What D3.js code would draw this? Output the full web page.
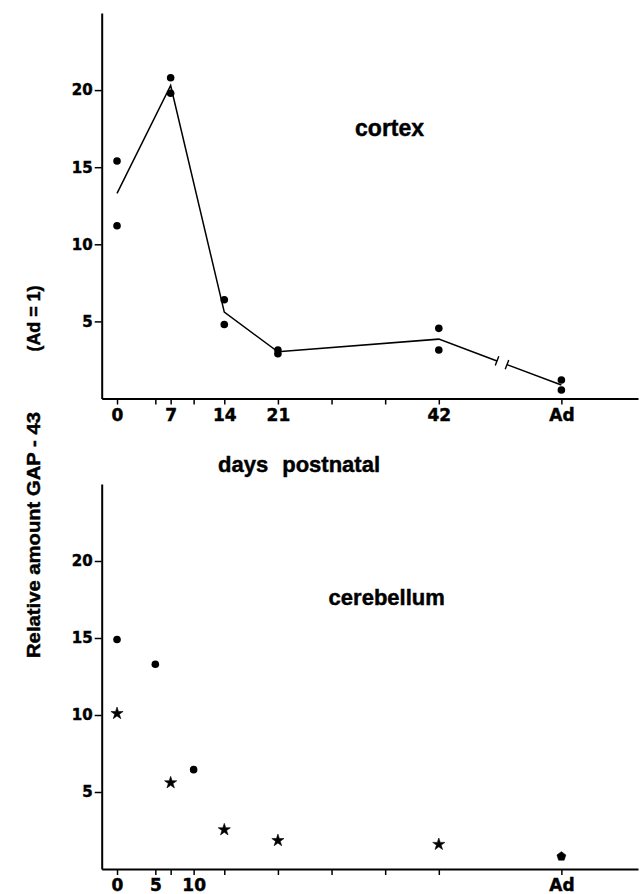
<!DOCTYPE html>
<html>
<head>
<meta charset="utf-8">
<script src="https://cdn.jsdelivr.net/npm/d3@7"></script>
<style>
  body { margin: 0; background: #fff; }
  svg { display: block; }
</style>
</head>
<body>
<div id="chart"></div>
<script>
// Données (jours postnatals, 'Ad' = adulte)
const tickDays     = [0, 5, 7, 10, 14, 21, 28, 35, 42, 'Ad']
const cortexLabels = ['0', '7', '14', '21', '42', 'Ad']
const cerebLabels  = ['0', '5', '10', 'Ad']
const yTicks       = [5, 10, 15, 20]

// cortex : deux mesures par âge, la ligne passe par la moyenne
const cortexDays = [0, 7, 14, 21, 42, 'Ad']
const cortexRep1 = [15.4, 20.8, 6.4, 3.15, 4.55, 1.2]
const cortexRep2 = [11.2, 19.8, 4.8, 2.9, 3.15, 0.55]
const breakDays  = [49.6, 50.9]   // coupure de l'axe entre 42 et Ad

// cervelet : ronds et étoiles (le dernier point est un pentagone)
const cerebDotDays   = [0, 5, 10]
const cerebDotVals   = [14.9, 13.3, 6.45]
const cerebStarDays  = [0, 7, 14, 21, 42, 'Ad']
const cerebStarVals  = [10.1, 5.6, 2.55, 1.85, 1.6, 0.82]
const cerebStarShape = ['star', 'star', 'star', 'star', 'star', 'pentagon']

const AD_POS = 58   // position de 'Ad' sur l'axe coupé

const W = 642, H = 894
const TEXT_FONT = "'Liberation Sans', Arial, Helvetica, sans-serif"
const NUM_FONT  = "'DejaVu Sans', sans-serif"

const toX = d => d === 'Ad' ? AD_POS : d

// pentagone pour le point adulte du cervelet
const symbolPentagon = {
  draw(context, size) {
    const r = Math.sqrt(size / 2.378)
    for (let i = 0; i < 5; i++) {
      const a = -Math.PI / 2 + i * 2 * Math.PI / 5
      const px = r * Math.cos(a), py = r * Math.sin(a)
      if (i === 0) context.moveTo(px, py)
      else context.lineTo(px, py)
    }
    context.closePath()
  }
}

// texte un peu plus gras, comme l'impression scannée
const boldText = sel => sel
  .attr('font-weight', 'bold')
  .attr('fill', '#000')
  .attr('stroke', '#000')
  .attr('stroke-width', 0.45)

const svg = d3.select('#chart')
  .append('svg')
  .attr('width', W)
  .attr('height', H)

const x = d3.scaleLinear().domain([-2, 68]).range([101.7, 638])

function drawAxes(y, labels) {
  const x0 = y.range()[0]

  // Axe Y
  svg.append('g')
    .attr('transform', `translate(${x(-2)},0)`)
    .call(d3.axisLeft(y).tickValues(yTicks).tickSize(7).tickSizeOuter(0).tickPadding(2))
    .call(g => g.select('.domain').attr('stroke', '#000').attr('stroke-width', 2))
    .call(g => g.selectAll('.tick line').attr('stroke', '#000').attr('stroke-width', 1.5))
    .call(g => g.selectAll('.tick text')
      .call(boldText)
      .attr('font-family', NUM_FONT)
      .attr('font-size', 15))

  // Axe X
  svg.append('g')
    .attr('transform', `translate(0,${x0})`)
    .call(d3.axisBottom(x)
      .tickValues(tickDays.map(toX))
      .tickSize(6).tickSizeOuter(0).tickPadding(4)
      .tickFormat((d, i) => {
        const lab = String(tickDays[i])
        return labels.includes(lab) ? lab : ''
      }))
    .call(g => g.select('.domain').attr('stroke', '#000').attr('stroke-width', 2))
    .call(g => g.selectAll('.tick line').attr('stroke', '#000').attr('stroke-width', 1.5))
    .call(g => g.selectAll('.tick text')
      .call(boldText)
      .attr('font-family', NUM_FONT)
      .attr('font-size', 17))
}

// ---- Panneau haut : cortex ----
const yTop = d3.scaleLinear().domain([0, 25]).range([398.5, 13])
drawAxes(yTop, cortexLabels)

const means = cortexDays.map((d, i) => ({ day: toX(d), v: d3.mean([cortexRep1[i], cortexRep2[i]]) }))
const last = means[means.length - 1], prev = means[means.length - 2]
const interp = day => prev.v + (day - prev.day) / (last.day - prev.day) * (last.v - prev.v)

const seg1 = means.slice(0, -1).concat([{ day: breakDays[0], v: interp(breakDays[0]) }])
const seg2 = [{ day: breakDays[1], v: interp(breakDays[1]) }, last]

const line = d3.line().x(d => x(d.day)).y(d => yTop(d.v))

for (const seg of [seg1, seg2]) {
  svg.append('path')
    .attr('d', line(seg))
    .attr('fill', 'none')
    .attr('stroke', '#000')
    .attr('stroke-width', 1.5)
}

// petits traits de coupure, perpendiculaires à la ligne
const dx = x(last.day) - x(prev.day), dy = yTop(last.v) - yTop(prev.v)
const len = Math.hypot(dx, dy)
const nx = -dy / len, ny = dx / len
for (const b of breakDays) {
  const px = x(b), py = yTop(interp(b))
  svg.append('line')
    .attr('x1', px - nx * 5).attr('y1', py - ny * 5)
    .attr('x2', px + nx * 5).attr('y2', py + ny * 5)
    .attr('stroke', '#000')
    .attr('stroke-width', 1.4)
}

const cortexPts = cortexDays.flatMap((d, i) => [
  { day: toX(d), v: cortexRep1[i] },
  { day: toX(d), v: cortexRep2[i] }
])
svg.append('g').selectAll('circle')
  .data(cortexPts)
  .join('circle')
  .attr('cx', d => x(d.day))
  .attr('cy', d => yTop(d.v))
  .attr('r', 3.8)
  .attr('fill', '#000')

svg.append('text')
  .attr('x', 389.6).attr('y', 136)
  .attr('text-anchor', 'middle')
  .attr('font-family', TEXT_FONT)
  .attr('font-size', 23)
  .call(boldText)
  .text('cortex')

// Label axe X (entre les deux panneaux)
svg.append('text')
  .attr('x', 299).attr('y', 471.7)
  .attr('text-anchor', 'middle')
  .attr('font-family', TEXT_FONT)
  .attr('font-size', 22)
  .attr('word-spacing', 8)
  .call(boldText)
  .text('days postnatal')

// ---- Panneau bas : cervelet ----
const yBot = d3.scaleLinear().domain([0, 25]).range([869, 484])
drawAxes(yBot, cerebLabels)

svg.append('g').selectAll('circle')
  .data(cerebDotDays.map((d, i) => ({ day: toX(d), v: cerebDotVals[i] })))
  .join('circle')
  .attr('cx', d => x(d.day))
  .attr('cy', d => yBot(d.v))
  .attr('r', 3.8)
  .attr('fill', '#000')

const star = d3.symbol().type(d3.symbolStar).size(46)
const pent = d3.symbol().type(symbolPentagon).size(52)

svg.append('g').selectAll('path')
  .data(cerebStarDays.map((d, i) => ({ day: toX(d), v: cerebStarVals[i], shape: cerebStarShape[i] })))
  .join('path')
  .attr('transform', d => `translate(${x(d.day)},${yBot(d.v)})`)
  .attr('d', d => d.shape === 'pentagon' ? pent() : star())
  .attr('fill', '#000')
  .attr('stroke', '#000')
  .attr('stroke-width', 0.6)

svg.append('text')
  .attr('x', 386.7).attr('y', 604.5)
  .attr('text-anchor', 'middle')
  .attr('font-family', TEXT_FONT)
  .attr('font-size', 22)
  .call(boldText)
  .text('cerebellum')

// Label axe Y commun, vertical
const yLab = svg.append('g')
  .attr('font-family', TEXT_FONT)
  .attr('font-size', 19)
  .attr('text-anchor', 'middle')

yLab.append('text')
  .attr('transform', 'translate(40,535) rotate(-90)')
  .attr('textLength', 246)
  .attr('lengthAdjust', 'spacingAndGlyphs')
  .call(boldText)
  .text('Relative amount GAP - 43')

yLab.append('text')
  .attr('transform', 'translate(40,318.5) rotate(-90)')
  .attr('textLength', 66)
  .attr('lengthAdjust', 'spacingAndGlyphs')
  .call(boldText)
  .text('(Ad = 1)')
</script>
</body>
</html>
